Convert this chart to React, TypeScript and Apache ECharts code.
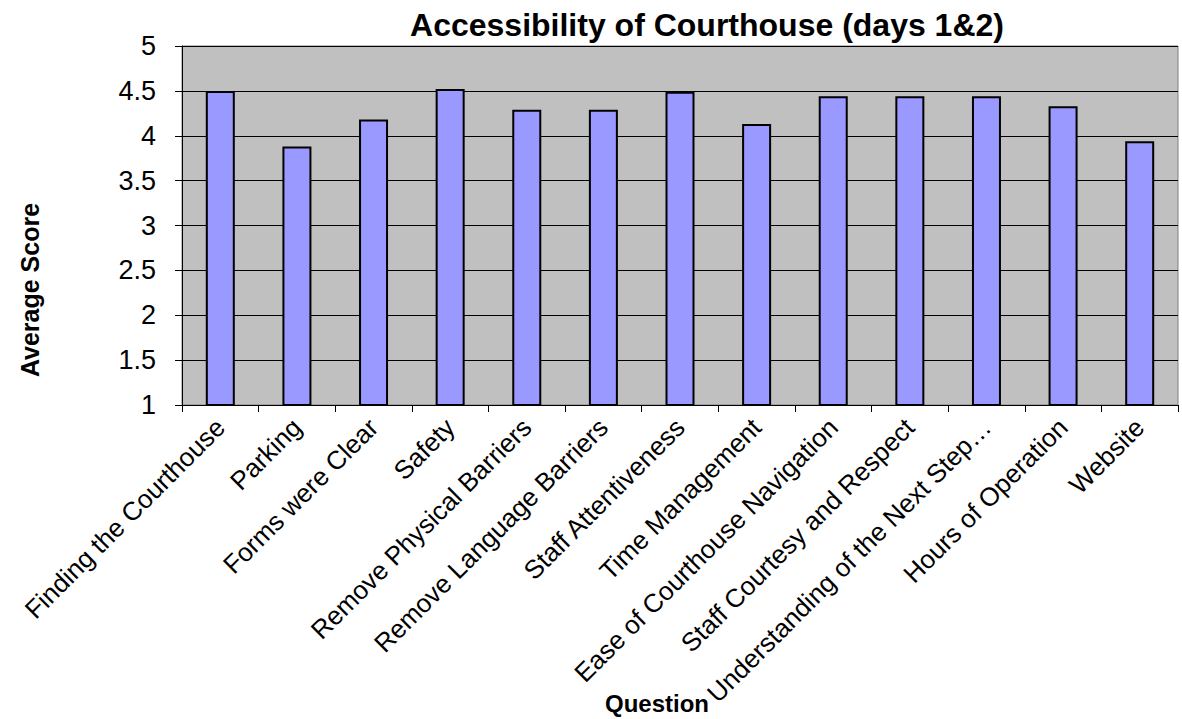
import React, { useEffect, useRef } from "react";
import * as echarts from "echarts";

const categories = [
  "Finding the Courthouse",
  "Parking",
  "Forms were Clear",
  "Safety",
  "Remove Physical Barriers",
  "Remove Language Barriers",
  "Staff Attentiveness",
  "Time Management",
  "Ease of Courthouse Navigation",
  "Staff Courtesy and Respect",
  "Understanding of the Next Step…",
  "Hours of Operation",
  "Website",
];

const averageScores = [4.5, 3.88, 4.18, 4.52, 4.29, 4.29, 4.49, 4.13, 4.44, 4.44, 4.44, 4.33, 3.94];

const yTicks = { min: 1, max: 5, interval: 0.5 };

const FONT = "'Liberation Sans', Arial, sans-serif";

export default function App() {
  const ref = useRef<HTMLDivElement>(null);

  useEffect(() => {
    if (!ref.current) return;
    const chart = echarts.init(ref.current, undefined, { renderer: "svg" });
    chart.setOption({
      animation: false,
      backgroundColor: "#ffffff",
      textStyle: { fontFamily: FONT },
      title: {
        text: "Accessibility of Courthouse (days 1&2)",
        left: 702,
        top: 4,
        textAlign: "center",
        textStyle: { fontFamily: FONT, fontSize: 32, fontWeight: "bold", color: "#000" },
      },
      grid: {
        left: 182,
        right: 4,
        top: 46,
        bottom: 314,
        show: true,
        backgroundColor: "#C0C0C0",
        borderColor: "#808080",
        borderWidth: 1,
        containLabel: false,
        outerBoundsMode: "none",
      },
      xAxis: {
        type: "category",
        data: categories,
        boundaryGap: true,
        axisLine: { show: true, lineStyle: { color: "#000", width: 1 } },
        axisTick: { show: true, length: 7, alignWithLabel: false, lineStyle: { color: "#000" } },
        axisLabel: {
          interval: 0,
          rotate: 45,
          margin: 18,
          fontSize: 26,
          fontFamily: FONT,
          color: "#000",
        },
        splitLine: { show: false },
      },
      yAxis: {
        type: "value",
        min: yTicks.min,
        max: yTicks.max,
        interval: yTicks.interval,
        axisLine: { show: true, lineStyle: { color: "#000", width: 1 } },
        axisTick: { show: true, length: 7, lineStyle: { color: "#000" } },
        axisLabel: { margin: 26, fontSize: 27, fontFamily: FONT, color: "#000" },
        splitLine: { show: true, lineStyle: { color: "#000", width: 1 } },
      },
      graphic: [
        {
          type: "text",
          x: 30,
          y: 290,
          rotation: Math.PI / 2,
          style: {
            text: "Average Score",
            font: `bold 25px ${FONT}`,
            fill: "#000",
            textAlign: "center",
            textVerticalAlign: "middle",
          },
        },
        {
          type: "text",
          x: 657,
          y: 703,
          style: {
            text: "Question",
            font: `bold 24px ${FONT}`,
            fill: "#000",
            textAlign: "center",
            textVerticalAlign: "middle",
          },
        },
      ],
      series: [
        {
          type: "bar",
          data: averageScores,
          barWidth: 29,
          itemStyle: { color: "#9999FF", borderColor: "#000", borderWidth: 2 },
        },
      ],
    });
    return () => chart.dispose();
  }, []);

  return (
    <div
      ref={ref}
      style={{ position: "absolute", left: 0, top: 0, width: 1182, height: 719 }}
    />
  );
}
